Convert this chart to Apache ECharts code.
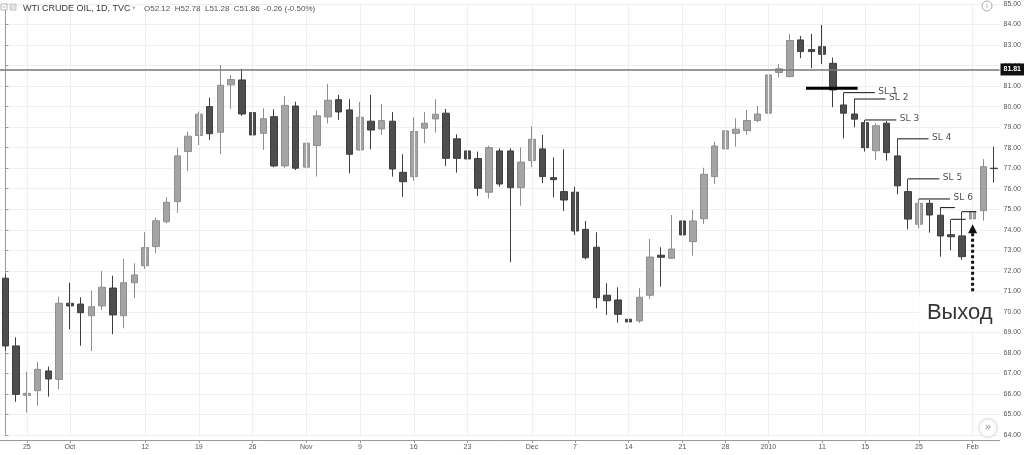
<!DOCTYPE html>
<html>
<head>
<meta charset="utf-8">
<script src="https://cdn.jsdelivr.net/npm/echarts@6/dist/echarts.min.js"></script>
<style>
html,body{margin:0;padding:0;background:#fff;}
#chart{width:1024px;height:455px;}
</style>
</head>
<body>
<div id="chart"></div>
<script>
// ---- data ----
const dates = [
 '2009-09-23','2009-09-24','2009-09-25','2009-09-28','2009-09-29','2009-09-30',
 '2009-10-01','2009-10-02','2009-10-05','2009-10-06','2009-10-07','2009-10-08','2009-10-09',
 '2009-10-12','2009-10-13','2009-10-14','2009-10-15','2009-10-16','2009-10-19','2009-10-20',
 '2009-10-21','2009-10-22','2009-10-23','2009-10-26','2009-10-27','2009-10-28','2009-10-29','2009-10-30',
 '2009-11-02','2009-11-03','2009-11-04','2009-11-05','2009-11-06','2009-11-09','2009-11-10',
 '2009-11-11','2009-11-12','2009-11-13','2009-11-16','2009-11-17','2009-11-18','2009-11-19','2009-11-20',
 '2009-11-23','2009-11-24','2009-11-25','2009-11-26','2009-11-27','2009-11-30',
 '2009-12-01','2009-12-02','2009-12-03','2009-12-04','2009-12-07','2009-12-08','2009-12-09',
 '2009-12-10','2009-12-11','2009-12-14','2009-12-15','2009-12-16','2009-12-17','2009-12-18',
 '2009-12-21','2009-12-22','2009-12-23','2009-12-24','2009-12-28','2009-12-29','2009-12-30','2009-12-31',
 '2010-01-04','2010-01-05','2010-01-06','2010-01-07','2010-01-08','2010-01-11','2010-01-12',
 '2010-01-13','2010-01-14','2010-01-15','2010-01-19','2010-01-20','2010-01-21','2010-01-22',
 '2010-01-25','2010-01-26','2010-01-27','2010-01-28','2010-01-29','2010-02-01','2010-02-02','2010-02-03'
];
const opens = [
 71.64,68.34,65.93,66.16,67.12,66.71,
 70.42,70.38,69.81,70.29,71.16,69.81,71.42,
 72.25,73.18,74.39,75.37,77.81,78.59,80.00,
 78.75,81.06,81.30,79.71,78.70,79.51,77.11,80.03,
 77.05,78.10,79.50,80.34,79.84,77.89,79.29,
 78.91,79.29,76.80,76.59,78.95,79.40,79.68,78.43,
 77.84,77.47,75.83,77.84,77.84,76.05,
 77.37,77.94,76.54,75.86,75.83,74.02,73.15,
 70.81,70.58,69.64,69.56,70.81,72.76,72.61,
 74.43,73.42,74.54,76.59,77.94,78.70,78.83,79.32,
 79.68,81.66,81.46,83.25,82.78,82.92,82.11,
 80.08,79.64,79.22,77.85,79.19,77.60,75.86,
 74.27,75.29,74.71,73.76,73.70,74.53,74.93,77.00
];
const closes = [
 68.34,65.98,66.03,67.20,66.73,70.42,
 70.29,69.96,70.25,71.20,69.85,71.42,71.80,
 73.13,74.44,75.34,77.60,78.56,79.63,78.68,
 81.04,81.32,79.64,78.62,79.41,77.11,80.06,77.00,
 78.22,79.55,80.31,79.74,77.68,79.48,78.86,
 79.32,76.96,76.34,78.79,79.19,79.63,77.48,77.48,
 77.45,76.02,78.00,76.23,76.05,77.30,
 78.41,76.59,76.44,75.45,73.94,72.64,70.69,
 70.54,69.88,69.51,70.71,72.67,72.66,73.06,
 73.75,74.43,76.70,78.08,78.82,78.90,79.32,79.64,
 81.54,81.84,83.22,82.68,82.68,82.55,80.81,
 79.68,79.39,78.00,79.07,77.76,76.14,74.52,
 75.29,74.72,73.70,73.66,72.69,74.88,77.07,76.98
];
const lows = [
 68.11,65.62,65.09,65.43,65.87,66.23,
 69.15,68.35,68.09,70.09,68.91,69.20,70.66,
 72.09,72.86,74.32,74.83,76.86,78.13,78.38,
 77.68,79.89,79.55,78.00,77.89,77.05,77.02,76.91,
 76.62,76.59,79.18,79.35,76.75,77.85,77.92,
 78.62,76.59,75.61,76.39,78.22,78.73,77.11,76.78,
 77.24,75.65,75.53,76.10,72.42,75.17,
 77.05,76.27,75.58,74.92,73.75,72.56,70.17,
 69.85,69.47,68.73,69.46,70.63,71.23,72.58,
 73.21,72.74,74.28,76.23,77.81,78.05,78.62,79.25,
 79.64,81.42,81.43,82.36,81.87,82.07,79.97,
 78.46,78.99,77.81,77.40,77.37,75.73,74.02,
 74.07,73.86,72.69,73.00,72.53,74.50,74.44,76.30
];
const highs = [
 71.83,68.76,67.08,67.57,67.33,70.74,
 71.42,70.71,71.03,71.99,71.76,72.58,72.37,
 73.88,74.59,75.58,78.00,78.78,79.76,80.44,
 82.03,81.54,81.84,81.63,79.92,79.87,80.52,80.24,
 78.73,79.80,81.11,80.57,80.36,80.23,80.57,
 80.13,79.73,77.68,79.48,79.73,80.36,79.89,78.65,
 79.92,77.81,78.10,77.97,77.97,78.02,
 79.05,78.62,77.53,77.92,76.10,74.43,73.88,
 71.39,71.20,70.22,71.16,73.55,73.15,74.72,
 75.26,74.96,77.02,78.29,79.16,79.43,79.84,80.03,
 81.70,82.07,83.54,83.44,83.54,83.98,82.39,
 80.68,80.37,79.35,79.19,79.30,78.43,76.48,
 75.50,75.45,75.08,74.51,74.88,74.90,77.44,78.05
];
const tickDates = ['2009-09-25','2009-10-01','2009-10-12','2009-10-19','2009-10-26','2009-11-02',
 '2009-11-09','2009-11-16','2009-11-23','2009-12-01','2009-12-07','2009-12-14','2009-12-21',
 '2009-12-28','2010-01-04','2010-01-11','2010-01-15','2010-01-25','2010-02-01'];
const tickTexts = ['25','Oct','12','19','26','Nov','9','16','23','Dec','7','14','21','28','2010','11','15','25','Feb'];
const lastPrice = 81.81;
const slDates = ['2010-01-13','2010-01-14','2010-01-15','2010-01-21','2010-01-22','2010-01-25'];
const slLabels = ['SL 1','SL 2','SL 3','SL 4','SL 5','SL 6'];
const trailDates = ['2010-01-27','2010-01-28','2010-01-29'];
const entryLevel = 80.9;
const entryFrom = '2010-01-07', entryTo = '2010-01-14';
const exitDate = '2010-02-01';
const exitArrowFrom = 71.0, exitArrowTo = 74.05;
const exitLabel = 'Выход';
const exitLabelAt = ['2010-01-28', 69.95];
const header = 'WTI CRUDE OIL, 1D, TVC';
const ohlcText = 'O52.12  H52.78  L51.28  C51.86  -0.26 (-0.50%)';

// ---- chart ----
const chart = echarts.init(document.getElementById('chart'), null, {renderer:'canvas'});
const idx = d => dates.indexOf(d);
const isTick = (i, v) => tickDates.indexOf(v) >= 0;
const FONT = 'Liberation Sans, Arial, sans-serif';

const series = [];
series.push({
  type:'line', data:[], z:0, silent:true,
  markLine:{ silent:true, symbol:['none','none'], animation:false, label:{show:false},
    lineStyle:{color:'#efefef', width:1, type:'solid'},
    data: tickDates.map(d => ({xAxis:d})) }
});
series.push({
  type:'candlestick', barWidth:7, z:2,
  data: dates.map((d,i)=>[opens[i], closes[i], lows[i], highs[i]]),
  itemStyle:{color:'#a4a4a4', color0:'#4e4e4e', borderColor:'#8e8e8e', borderColor0:'#3e3e3e', borderWidth:1},
  markLine:{ silent:true, symbol:['none','none'], animation:false,
    lineStyle:{color:'#777', width:1.5, type:'solid'},
    label:{show:true, position:'end', formatter: () => lastPrice.toFixed(2), color:'#fff',
      backgroundColor:'#111', fontSize:7, fontWeight:'bold', fontFamily:FONT, padding:[3,3,2,3], distance:1},
    data:[{yAxis:lastPrice}] }
});
// SL lines
slDates.forEach((d,k) => {
  const i = idx(d), lvl = highs[i];
  series.push({
    type:'line', xAxisIndex:1, yAxisIndex:0, z:5, silent:true, showSymbol:false,
    lineStyle:{color:'#111', width:1}, data:[[i, lvl],[i+2.9, lvl]]
  });
  series.push({
    type:'scatter', xAxisIndex:1, yAxisIndex:0, z:6, silent:true, symbolSize:1,
    itemStyle:{color:'transparent'},
    label:{show:true, position:'right', distance:2, formatter:slLabels[k], color:'#222',
      fontSize:9, fontFamily:'DejaVu Sans, sans-serif', offset:[1,-1]},
    data:[[i+2.9, lvl]]
  });
});
trailDates.forEach((d,k) => {
  const i = idx(d), lvl = highs[i];
  series.push({
    type:'line', xAxisIndex:1, yAxisIndex:0, z:5, silent:true, showSymbol:false,
    lineStyle:{color:'#111', width:1}, data:[[i, lvl],[i+1.35, lvl]]
  });
});
// entry thick line
series.push({
  type:'line', xAxisIndex:1, yAxisIndex:0, z:5, silent:true, showSymbol:false,
  lineStyle:{color:'#000', width:3}, data:[[idx(entryFrom)+0.5, entryLevel],[idx(entryTo)+0.3, entryLevel]]
});
// exit arrow
const ex = idx(exitDate);
series.push({
  type:'line', xAxisIndex:1, yAxisIndex:0, z:5, silent:true,
  lineStyle:{color:'#111', width:3, type:[3,2.5]},
  data:[{value:[ex, exitArrowFrom], symbol:'none'},
        {value:[ex, exitArrowTo], symbol:'triangle', symbolSize:[9,9], itemStyle:{color:'#111'}}],
  showSymbol:true, symbol:'none'
});
// exit label
series.push({
  type:'scatter', xAxisIndex:1, yAxisIndex:0, z:7, silent:true, symbolSize:1,
  itemStyle:{color:'transparent'},
  label:{show:true, position:'inside', formatter:exitLabel, color:'#000', fontSize:22,
    fontFamily:FONT, backgroundColor:'#fff', padding:[7,10,7,8]},
  data:[[idx(exitLabelAt[0])+0.9, exitLabelAt[1]]]
});

const option = {
  animation:false,
  backgroundColor:'#fff',
  grid:{left:0, right:23, top:4, bottom:20, containLabel:false},
  xAxis:[{
    type:'category', data:dates, boundaryGap:true, offset:5,
    axisLine:{show:true, lineStyle:{color:'#9a9a9a'}},
    axisTick:{show:true, alignWithLabel:true, interval:isTick, length:3, lineStyle:{color:'#9a9a9a'}},
    axisLabel:{interval:isTick, formatter:v => tickTexts[tickDates.indexOf(v)],
      fontSize:7, color:'#555', margin:4, fontFamily:FONT},
    splitLine:{show:false}
  },{
    type:'value', min:-0.5, max:dates.length-0.5, show:false
  }],
  yAxis:[{
    type:'value', position:'right', min:64, max:85, interval:1,
    axisLine:{show:true, lineStyle:{color:'#9a9a9a'}},
    axisTick:{show:true, length:3, lineStyle:{color:'#9a9a9a'}},
    axisLabel:{fontSize:7, color:'#555', margin:4, fontFamily:FONT, formatter:v => v.toFixed(2)},
    splitLine:{show:true, lineStyle:{color:'#efefef', width:1}}
  }],
  series: series,
  graphic:[
    {type:'rect', shape:{x:1, y:4, width:6, height:6}, style:{fill:'#fff', stroke:'#b5b5b5', lineWidth:1}, z:10},
    {type:'line', shape:{x1:2.5, y1:7, x2:5.5, y2:7}, style:{stroke:'#b5b5b5', lineWidth:1}, z:11},
    {type:'rect', shape:{x:10, y:4, width:6, height:6}, style:{fill:'#e2e2e2', stroke:'#c5c5c5', lineWidth:1}, z:10},
    {type:'text', x:23, y:4, style:{text:header, fontSize:9, fill:'#3a3a3a', fontFamily:FONT}, z:10},
    {type:'text', x:132, y:5, style:{text:'▾', fontSize:7, fill:'#bbb', fontFamily:'DejaVu Sans'}, z:10},
    {type:'text', x:144, y:5, style:{text:ohlcText, fontSize:8, fill:'#555', fontFamily:FONT}, z:10},
    {type:'circle', shape:{cx:987, cy:6, r:5}, style:{fill:'#fff', stroke:'#aaa', lineWidth:1}, z:10},
    {type:'text', x:987, y:6, style:{text:'i', fontSize:7, fill:'#999', align:'center', verticalAlign:'middle', fontFamily:FONT}, z:11},
    {type:'circle', shape:{cx:988, cy:428, r:9}, style:{fill:'#fff', stroke:'#e6e6e6', lineWidth:1, shadowBlur:3, shadowColor:'rgba(0,0,0,0.12)'}, z:10},
    {type:'text', x:988, y:427, style:{text:'»', fontSize:11, fill:'#888', align:'center', verticalAlign:'middle', fontFamily:FONT}, z:11}
  ]
};
chart.setOption(option);
</script>
</body>
</html>
